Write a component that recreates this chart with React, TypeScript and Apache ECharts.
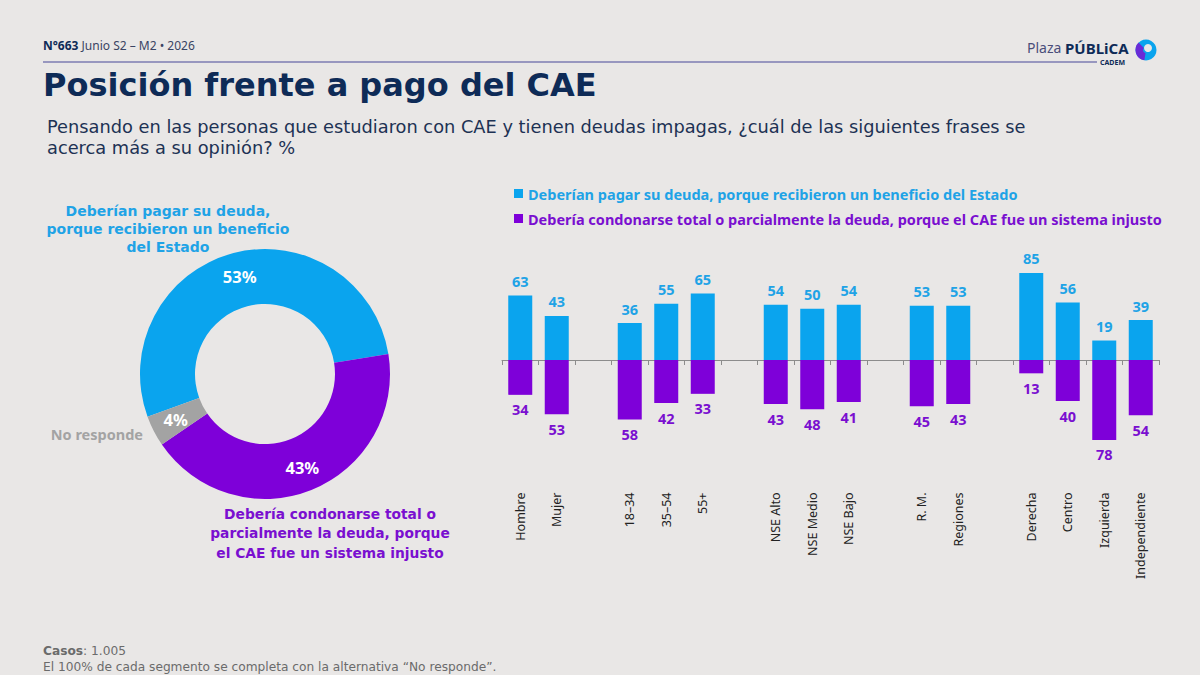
import React, { useEffect, useRef } from "react";
import * as echarts from "echarts";

const categories = [
  "Hombre", "Mujer", " ", "18–34", "35–54", "55+", "  ",
  "NSE Alto", "NSE Medio", "NSE Bajo", "   ", "R. M.", "Regiones", "    ",
  "Derecha", "Centro", "Izquierda", "Independiente",
];
const pagar = [63, 43, null, 36, 55, 65, null, 54, 50, 54, null, 53, 53, null, 85, 56, 19, 39];
const condonar = [34, 53, null, 58, 42, 33, null, 43, 48, 41, null, 45, 43, null, 13, 40, 78, 54];

const pieNames = ["Pagar", "Condonar", "No responde"];
const pieValues = [53, 43, 4];

const seriesPagar = "Deberían pagar su deuda, porque recibieron un beneficio del Estado";
const seriesCondonar = "Debería condonarse total o parcialmente la deuda, porque el CAE fue un sistema injusto";

const BLUE = "#0AA4EE";
const PURPLE = "#7E00D9";
const GRAY = "#A3A3A3";
const BLUE_TXT = "#1FA3E6";
const PURPLE_TXT = "#7A0FD0";
const NAVY = "#0E2B57";
const BG = "#E9E7E6";
const FONT = "Noto Sans";
const WIDE = "DejaVu Sans";

export default function App() {
  const ref = useRef<HTMLDivElement>(null);
  useEffect(() => {
    document.body.style.margin = "0";
    const chart = echarts.init(ref.current!, undefined, { renderer: "svg" });
    const option: any = {
      animation: false,
      backgroundColor: BG,
      textStyle: { fontFamily: FONT },
      legend: {
        orient: "vertical",
        left: 509,
        top: 181,
        itemGap: 10,
        icon: "rect",
        itemWidth: 9,
        itemHeight: 9,
        selectedMode: false,
        data: [
          { name: seriesPagar, textStyle: { color: BLUE_TXT } },
          { name: seriesCondonar, textStyle: { color: PURPLE_TXT } },
        ],
        textStyle: { fontFamily: FONT, fontWeight: "bold", fontSize: 14.5 },
      },
      grid: { left: 502, right: 41, top: 257.5, bottom: 212.5, outerBoundsMode: "none", containLabel: false },
      xAxis: {
        type: "category",
        data: categories,
        axisLine: { onZero: true, lineStyle: { color: "#8C8C8C", width: 1 } },
        axisTick: { show: true, length: 5, interval: 0, lineStyle: { color: "#8C8C8C" } },
        axisLabel: {
          rotate: 90,
          interval: 0,
          margin: 30,
          color: "#222222",
          fontSize: 12.5,
          fontFamily: FONT,
        },
      },
      yAxis: {
        type: "value",
        min: -100,
        max: 100,
        show: false,
        splitLine: { show: false },
      },
      series: [
        {
          name: seriesPagar,
          type: "bar",
          stack: "s",
          barWidth: 24,
          data: pagar,
          itemStyle: { color: BLUE },
          label: {
            show: true,
            position: "top",
            distance: 7,
            color: BLUE_TXT,
            fontWeight: "bold",
            fontSize: 14.5,
            fontFamily: FONT,
          },
        },
        {
          name: seriesCondonar,
          type: "bar",
          stack: "s",
          barWidth: 24,
          data: condonar.map((v) => (v == null ? null : -v)),
          itemStyle: { color: PURPLE },
          label: {
            show: true,
            position: "bottom",
            distance: 7,
            color: PURPLE_TXT,
            fontWeight: "bold",
            fontSize: 14.5,
            fontFamily: FONT,
            formatter: (p: any) => String(Math.abs(p.value)),
          },
        },
        {
          type: "pie",
          center: [265, 374],
          radius: [70, 125],
          startAngle: 200,
          clockwise: true,
          silent: true,
          data: pieNames.map((n, i) => ({
            name: n,
            value: pieValues[i],
            itemStyle: { color: [BLUE, PURPLE, GRAY][i] },
          })),
          label: {
            show: true,
            position: "inside",
            formatter: "{c}%",
            color: "#FFFFFF",
            fontWeight: "bold",
            fontSize: 16.5,
            fontFamily: FONT,
          },
          labelLine: { show: false },
        },
      ],
      graphic: [
        {
          type: "text",
          left: 43,
          top: 39,
          style: {
            text: "{b|N°663}{r| Junio S2 – M2 • 2026}",
            rich: {
              b: { fontFamily: FONT, fontWeight: "bold", fontSize: 12, fill: NAVY },
              r: { fontFamily: FONT, fontSize: 12, fill: "#3A4463" },
            },
          },
        },
        {
          type: "line",
          shape: { x1: 43, y1: 62, x2: 1097, y2: 62 },
          style: { stroke: "#7C7DB2", lineWidth: 1.5 },
        },
        {
          type: "text",
          left: 1027,
          top: 40,
          style: {
            text: "{r|Plaza }{b|PÚBLiCA}",
            rich: {
              r: { fontFamily: FONT, fontSize: 14, fill: "#4A4E7A" },
              b: { fontFamily: FONT, fontWeight: "bold", fontSize: 15, fill: NAVY },
            },
          },
        },
        {
          type: "text",
          left: 1100,
          top: 59,
          style: { text: "CADEM", font: `bold 7px '${FONT}'`, fill: NAVY },
        },
        { type: "circle", shape: { cx: 1146, cy: 50, r: 10.5 }, style: { fill: BLUE } },
        {
          type: "sector",
          shape: { cx: 1146, cy: 50, r: 10.5, r0: 3, startAngle: Math.PI * 0.55, endAngle: Math.PI * 1.25 },
          style: { fill: "#6A2BD6" },
        },
        { type: "circle", shape: { cx: 1148, cy: 48, r: 4 }, style: { fill: BG } },
        {
          type: "text",
          left: 43,
          top: 69,
          style: { text: "Posición frente a pago del CAE", font: `bold 32px '${WIDE}'`, fill: NAVY },
        },
        {
          type: "text",
          left: 47,
          top: 116,
          style: {
            text: "Pensando en las personas que estudiaron con CAE y tienen deudas impagas, ¿cuál de las siguientes frases se\nacerca más a su opinión? %",
            font: `17.8px '${WIDE}'`,
            lineHeight: 21,
            fill: "#1D3254",
          },
        },
        {
          type: "text",
          x: 168,
          y: 202,
          style: {
            text: "Deberían pagar su deuda,\nporque recibieron un beneficio\ndel Estado",
            font: `bold 14px '${WIDE}'`,
            lineHeight: 18,
            fill: BLUE_TXT,
            align: "center",
          },
        },
        {
          type: "text",
          x: 143,
          y: 434,
          style: {
            text: "No responde",
            font: `bold 14.5px '${FONT}'`,
            fill: GRAY,
            align: "right",
            verticalAlign: "middle",
          },
        },
        {
          type: "text",
          x: 330,
          y: 504,
          style: {
            text: "Debería condonarse total o\nparcialmente la deuda, porque\nel CAE fue un sistema injusto",
            font: `bold 13.8px '${WIDE}'`,
            lineHeight: 19.5,
            fill: PURPLE_TXT,
            align: "center",
          },
        },
        {
          type: "text",
          left: 43,
          top: 643,
          style: {
            text: "{b|Casos}: 1.005\nEl 100% de cada segmento se completa con la alternativa “No responde”.",
            font: `12.2px '${WIDE}'`,
            lineHeight: 16,
            fill: "#6B6B6B",
            rich: {
              b: { fontFamily: WIDE, fontWeight: "bold", fontSize: 12.2, fill: "#6B6B6B" },
            },
          },
        },
      ],
    };
    chart.setOption(option);
    return () => chart.dispose();
  }, []);
  return (
    <div
      ref={ref}
      style={{ position: "fixed", left: 0, top: 0, width: 1200, height: 675 }}
    />
  );
}
